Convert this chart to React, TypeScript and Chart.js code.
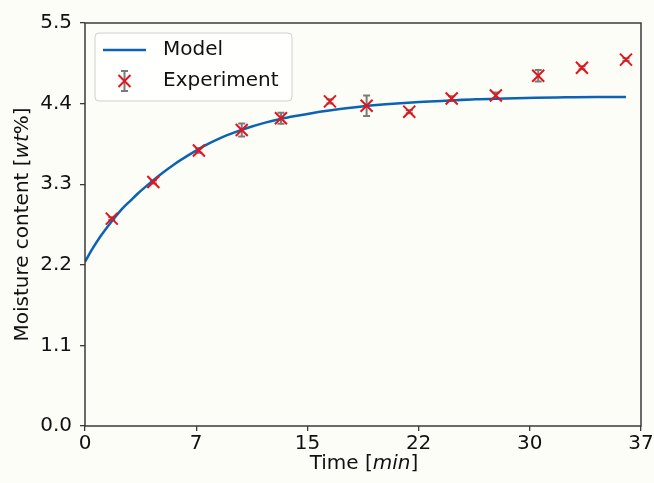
import React, { useEffect, useRef } from "react";
import { Chart, registerables } from "chart.js";

Chart.register(...registerables);

// Model curve
const modelTimes = [0, 0.5, 1, 1.5, 2, 2.5, 3, 3.5, 4, 5, 6, 7, 8, 9, 10, 11, 12, 13, 14, 16, 18, 20, 22, 24, 26, 28, 30, 32, 34, 36];
const modelValues = [2.24, 2.42, 2.58, 2.72, 2.85, 2.97, 3.07, 3.17, 3.26, 3.43, 3.58, 3.71, 3.83, 3.93, 4.01, 4.08, 4.14, 4.19, 4.23, 4.3, 4.35, 4.39, 4.42, 4.44, 4.46, 4.47, 4.48, 4.485, 4.49, 4.49];

// Experiment points
const expTimes = [1.78, 4.55, 7.58, 10.43, 13.04, 16.3, 18.74, 21.58, 24.4, 27.34, 30.16, 33.07, 36.0];
const expValues = [2.83, 3.33, 3.76, 4.04, 4.2, 4.43, 4.37, 4.29, 4.47, 4.51, 4.78, 4.89, 5.0];
const expErrors = [0.02, 0.02, 0.03, 0.09, 0.075, 0.03, 0.14, 0.02, 0.03, 0.04, 0.08, 0.02, 0.02];

// Ticks
const xTickValues = [0, 7.4, 14.8, 22.2, 29.6, 37];
const xTickLabels = ["0", "7", "15", "22", "30", "37"];
const yTickValues = [0, 1.1, 2.2, 3.3, 4.4, 5.5];
const yTickLabels = ["0.0", "1.1", "2.2", "3.3", "4.4", "5.5"];

const FONT = "'DejaVu Sans', sans-serif";
const BLUE = "#0c63b4";
const RED = "#e3141c";
const GRAY = "#7a7a7a";
const SPINE = "#3a3a3a";
const BG = "#fdfdf8";

function drawErrBar(ctx: CanvasRenderingContext2D, x: number, yTop: number, yBot: number, cap: number) {
  ctx.beginPath();
  ctx.moveTo(x, yTop);
  ctx.lineTo(x, yBot);
  ctx.moveTo(x - cap, yTop);
  ctx.lineTo(x + cap, yTop);
  ctx.moveTo(x - cap, yBot);
  ctx.lineTo(x + cap, yBot);
  ctx.stroke();
}

function drawX(ctx: CanvasRenderingContext2D, x: number, y: number, r: number) {
  ctx.beginPath();
  ctx.moveTo(x - r, y - r);
  ctx.lineTo(x + r, y + r);
  ctx.moveTo(x - r, y + r);
  ctx.lineTo(x + r, y - r);
  ctx.stroke();
}

function drawMixed(ctx: CanvasRenderingContext2D, parts: [string, boolean][], cx: number, cy: number) {
  const fonts = parts.map(([, it]) => `${it ? "italic " : ""}20px ${FONT}`);
  let total = 0;
  const widths = parts.map(([t], i) => {
    ctx.font = fonts[i];
    const w = ctx.measureText(t).width;
    total += w;
    return w;
  });
  let x = cx - total / 2;
  ctx.textAlign = "left";
  ctx.textBaseline = "middle";
  parts.forEach(([t], i) => {
    ctx.font = fonts[i];
    ctx.fillText(t, x, cy);
    x += widths[i];
  });
}

const customPlugin = {
  id: "custom",
  beforeDraw(chart: any) {
    const { ctx, width, height } = chart;
    ctx.save();
    ctx.fillStyle = BG;
    ctx.fillRect(0, 0, width, height);
    ctx.restore();
  },
  beforeDatasetsDraw(chart: any) {
    const { ctx, scales } = chart;
    const xs = scales.x;
    const ys = scales.y;
    ctx.save();
    ctx.strokeStyle = GRAY;
    ctx.lineWidth = 2;
    expTimes.forEach((t, i) => {
      const px = xs.getPixelForValue(t);
      const top = ys.getPixelForValue(expValues[i] + expErrors[i]);
      const bot = ys.getPixelForValue(expValues[i] - expErrors[i]);
      drawErrBar(ctx, px, top, bot, 3.5);
    });
    ctx.restore();
  },
  afterDraw(chart: any) {
    const { ctx, chartArea, scales } = chart;
    const { left, right, top, bottom } = chartArea;
    ctx.save();
    // spines
    ctx.strokeStyle = SPINE;
    ctx.lineWidth = 1.5;
    ctx.strokeRect(left, top, right - left, bottom - top);

    // x tick labels
    ctx.fillStyle = "#111";
    ctx.font = `20px ${FONT}`;
    ctx.textAlign = "center";
    ctx.textBaseline = "middle";
    xTickValues.forEach((v, i) => {
      ctx.fillText(xTickLabels[i], scales.x.getPixelForValue(v), bottom + 18);
    });

    // legend
    const lx = 95, ly = 33, lw = 197, lh = 68, rr = 4;
    ctx.beginPath();
    ctx.moveTo(lx + rr, ly);
    ctx.lineTo(lx + lw - rr, ly);
    ctx.quadraticCurveTo(lx + lw, ly, lx + lw, ly + rr);
    ctx.lineTo(lx + lw, ly + lh - rr);
    ctx.quadraticCurveTo(lx + lw, ly + lh, lx + lw - rr, ly + lh);
    ctx.lineTo(lx + rr, ly + lh);
    ctx.quadraticCurveTo(lx, ly + lh, lx, ly + lh - rr);
    ctx.lineTo(lx, ly + rr);
    ctx.quadraticCurveTo(lx, ly, lx + rr, ly);
    ctx.closePath();
    ctx.fillStyle = "rgba(255,255,255,0.8)";
    ctx.fill();
    ctx.strokeStyle = "#d0d0d0";
    ctx.lineWidth = 1;
    ctx.stroke();

    ctx.strokeStyle = BLUE;
    ctx.lineWidth = 2.5;
    ctx.beginPath();
    ctx.moveTo(103, 50);
    ctx.lineTo(146, 50);
    ctx.stroke();

    ctx.strokeStyle = GRAY;
    ctx.lineWidth = 2;
    drawErrBar(ctx, 124.5, 71, 91, 3.5);
    ctx.strokeStyle = RED;
    ctx.lineWidth = 2;
    drawX(ctx, 124.5, 81, 6);

    ctx.fillStyle = "#111";
    ctx.font = `20px ${FONT}`;
    ctx.textAlign = "left";
    ctx.textBaseline = "middle";
    ctx.fillText("Model", 163, 50);
    ctx.fillText("Experiment", 163, 81);

    // axis titles
    drawMixed(ctx, [["Time [", false], ["min", true], ["]", false]], (left + right) / 2 + 1, 464);
    ctx.translate(23, (top + bottom) / 2);
    ctx.rotate(-Math.PI / 2);
    drawMixed(ctx, [["Moisture content [", false], ["wt", true], ["%]", false]], 0, 0);
    ctx.restore();
  },
};

export default function App() {
  const ref = useRef<HTMLCanvasElement | null>(null);

  useEffect(() => {
    if (!ref.current) return;
    const chart = new Chart(ref.current, {
      type: "scatter",
      data: {
        datasets: [
          {
            type: "line",
            label: "Model",
            data: modelTimes.map((t, i) => ({ x: t, y: modelValues[i] })),
            borderColor: BLUE,
            borderWidth: 2.5,
            pointRadius: 0,
            cubicInterpolationMode: "monotone",
            fill: false,
            order: 2,
          },
          {
            type: "scatter",
            label: "Experiment",
            data: expTimes.map((t, i) => ({ x: t, y: expValues[i] })),
            pointStyle: "crossRot",
            pointRadius: 8.5,
            borderColor: RED,
            backgroundColor: RED,
            borderWidth: 2,
            order: 1,
          },
        ],
      } as any,
      options: {
        responsive: false,
        animation: false,
        devicePixelRatio: 1,
        layout: { padding: { left: 0, top: 23, right: 13, bottom: 0 } },
        plugins: { legend: { display: false }, tooltip: { enabled: false } },
        scales: {
          x: {
            type: "linear",
            min: 0,
            max: 37,
            afterBuildTicks: (scale: any) => {
              scale.ticks = xTickValues.map((v) => ({ value: v }));
            },
            afterFit: (scale: any) => {
              scale.height = 57;
            },
            ticks: {
              display: false,
              autoSkip: false,
              maxRotation: 0,
            },
            grid: {
              drawOnChartArea: false,
              drawTicks: true,
              tickLength: 5,
              color: SPINE,
              lineWidth: 1.3,
            },
            border: { display: false },
          },
          y: {
            type: "linear",
            min: 0,
            max: 5.5,
            afterBuildTicks: (scale: any) => {
              scale.ticks = yTickValues.map((v) => ({ value: v }));
            },
            afterFit: (scale: any) => {
              scale.width = 85;
            },
            ticks: {
              autoSkip: false,
              padding: 8,
              color: "#111",
              font: { family: FONT, size: 20 },
              callback: (_v: any, i: number) => yTickLabels[i],
            },
            grid: {
              drawOnChartArea: false,
              drawTicks: true,
              tickLength: 5,
              color: SPINE,
              lineWidth: 1.3,
            },
            border: { display: false },
          },
        },
      } as any,
      plugins: [customPlugin],
    });
    return () => chart.destroy();
  }, []);

  return (
    <div style={{ position: "fixed", left: 0, top: 0, width: 654, height: 483, background: BG }}>
      <canvas ref={ref} width={654} height={483} style={{ display: "block" }} />
    </div>
  );
}
